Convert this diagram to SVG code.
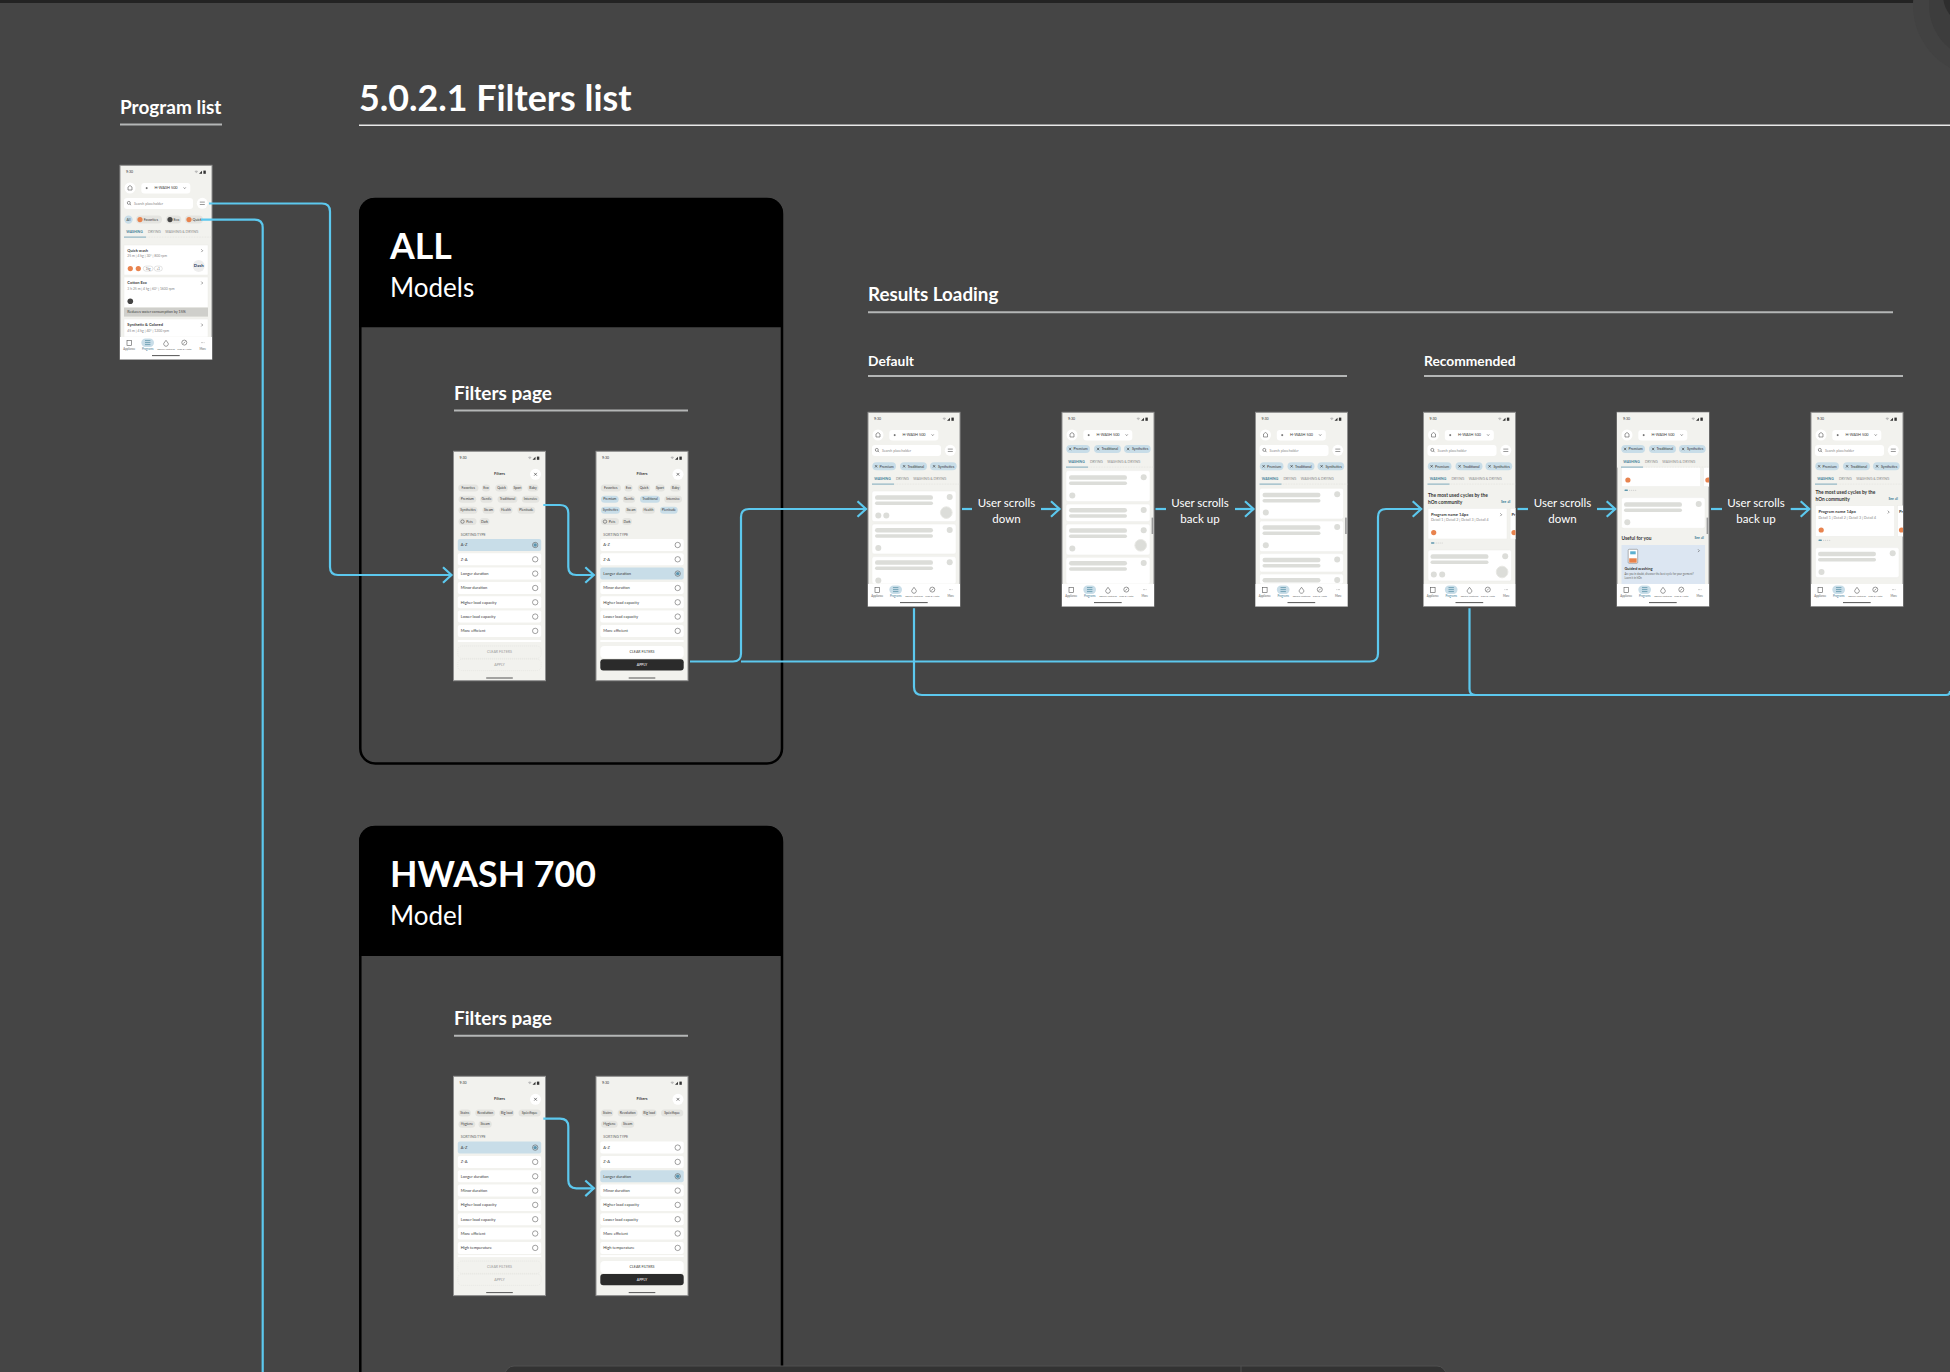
<svg xmlns="http://www.w3.org/2000/svg" width="1950" height="1372" viewBox="0 0 1950 1372">
<style>
text{font-family:Lato,"Noto Sans","Liberation Sans",sans-serif}
.w{fill:#fff}.b{font-weight:700}
.ln{stroke:#b4b6b6;stroke-width:2;fill:none}
.pn{fill:none;stroke:#000;stroke-width:2.5}
.ph{fill:#f2f2ee;stroke:#8e8e8e;stroke-width:1}
.t3{font-size:4px;fill:#3a3a3a}
.ttl{font-size:4px;fill:#3a3a3a;font-weight:700}
.t3c{font-size:3.4px;fill:#3a3a3a;text-anchor:middle}
.btn{font-size:3.6px;fill:#3a3a3a;text-anchor:middle}
.det{font-size:3.4px;fill:#888}
.chp{font-size:3.6px;fill:#333}
.srt{font-size:3.6px;fill:#666}
.t2c{font-size:2.8px;fill:#666;text-anchor:middle}
.h4{font-size:4.8px;fill:#333;font-weight:700}
.see{font-size:3.3px;fill:#3d7d96;font-weight:700}
.tab{font-size:3.4px;fill:#888}
.lab{font-size:11.5px;fill:#fff;text-anchor:middle}
.card{fill:#fff;stroke:#ecece8;stroke-width:.5}
.sk{fill:#dcddd9}
.ic{fill:none;stroke:#555;stroke-width:.6}
.or{fill:#e8834e}
.cn{fill:none;stroke:#5cc8ee;stroke-width:2.2}
.ar{fill:none;stroke:#5cc8ee;stroke-width:2.2;marker-end:url(#arr)}
.blue{fill:#c8dde8}
</style>
<defs>
<marker id="arr" markerUnits="userSpaceOnUse" markerWidth="14" markerHeight="20" refX="11" refY="10" orient="auto"><path d="M2 2.2L10.5 10L2 17.8" fill="none" stroke="#5cc8ee" stroke-width="2.2"/></marker>
<clipPath id="clip"><rect x="0" y="0" width="92" height="194"/></clipPath>
<g id="st"><text x="6" y="8" style="font-size:3.5px;fill:#333">9:30</text><path d="M74.5 6q1.8-1.6 3.6 0l-1.8 2z" fill="#bbb"/><path d="M79 8.4l3-3v3z" fill="#333"/><rect x="83.4" y="5.3" width="2.4" height="3.2" fill="#333"/></g>
<g id="nav"><rect y="171.7" width="92" height="22.3" fill="#fff"/><rect x="21.3" y="173.3" width="12.7" height="8.4" rx="4.2" class="blue"/>
<rect x="7" y="175" width="4.6" height="5" class="ic"/><path d="M25 175.3h5.4M25 177.3h5.4M25 179.3h5.4" class="ic" style="stroke:#3d7d96"/><path d="M46 175l2.2 3a2.3 2.3 0 1 1-4.4 0z" class="ic"/><circle cx="64.3" cy="177.3" r="2.5" class="ic"/><path d="M63.3 178.3l2-2" class="ic"/><path d="M81.2 177.3h.5M82.5 177.3h.5M83.8 177.3h.5" class="ic"/>
<text x="9.3" y="185.2" class="t2c">Appliance</text><text x="27.7" y="185.2" class="t2c" style="fill:#3d7d96">Programs</text><text x="46" y="185.2" class="t2c" style="font-size:2.5px">Special Features</text><text x="64.3" y="185.2" class="t2c" style="font-size:2.6px">Tips &amp; Hints</text><text x="82.7" y="185.2" class="t2c">More</text>
<rect x="32" y="189.8" width="27.7" height="1" fill="#555"/></g>
<g id="hd"><circle cx="10" cy="22.7" r="5.5" fill="#fff"/><path d="M8 24.7v-3l2-1.5 2 1.5v3z" class="ic"/><rect x="21.3" y="17.7" width="49" height="10.5" rx="3" fill="#fff"/><path d="M25.7 22.8h2M26.7 21.8v2" class="ic" style="stroke:#333"/><text x="46" y="24.1" class="t3c" style="font-size:3.8px">H-WASH 500</text><path d="M63.7 22.2l1 1 1-1" class="ic" style="stroke:#333"/></g>
<g id="sr"><rect x="4" y="32.7" width="69" height="11" rx="3" fill="#fff"/><circle cx="8.8" cy="37.6" r="1.5" class="ic"/><path d="M9.9 38.7l1.2 1.2" class="ic"/><text x="14" y="39.3" style="font-size:3.5px;fill:#888">Search placeholder</text><circle cx="82.3" cy="38" r="5.5" fill="#fff"/><path d="M79.8 36.8h5M79.8 39.2h5" class="ic"/></g>
<g id="fc"><rect x="4.3" y="-4" width="23.7" height="8" rx="4" class="blue"/><rect x="32" y="-4" width="27" height="8" rx="4" class="blue"/><rect x="62" y="-4" width="26.7" height="8" rx="4" class="blue"/><path d="M7 -1.2l2.2 2.4M9.2 -1.2L7 1.2M35 -1.2l2.2 2.4M37.2 -1.2L35 1.2M65 -1.2l2.2 2.4M67.2 -1.2L65 1.2" class="ic" style="stroke:#333"/><text x="11.6" y="1.2" class="chp">Premium</text><text x="39.6" y="1.2" class="chp">Traditional</text><text x="70" y="1.2" class="chp">Synthetics</text></g>
<g id="tb"><text x="6.3" y="1.2" class="tab" style="fill:#3d7d96;font-weight:700">WASHING</text><text x="28" y="1.2" class="tab">DRYING</text><text x="45.3" y="1.2" class="tab">WASHING &amp; DRYING</text><path d="M4 5.8h22" stroke="#5f97ad" stroke-width=".8"/><path d="M26 5.8h66" stroke="#d8d8d4" stroke-width=".5" stroke-dasharray=".8 .8"/></g>
<g id="bars"><rect x="7" y="-2.25" width="58" height="4.5" rx="2.2" class="sk"/><rect x="7" y="3.9" width="58" height="3.5" rx="1.7" class="sk"/></g>
<circle id="dot" r="3" class="sk"/>
<circle id="big" r="5.8" class="sk" stroke="#e8e8e4" stroke-width="1"/>
<g id="ch4"><rect x="5" y="44.5" width="17.7" height="7" rx="3.5"/><rect x="44" y="44.5" width="20" height="7" rx="3.5"/><rect x="5" y="55.5" width="19" height="7" rx="3.5"/><rect x="64" y="55.5" width="17.7" height="7" rx="3.5"/><text x="13.8" y="49.2" class="t3c">Premium</text><text x="54" y="49.2" class="t3c">Traditional</text><text x="14.5" y="60.2" class="t3c">Synthetics</text><text x="72.8" y="60.2" class="t3c">Plenitude</text></g>
<g id="chA" fill="#e4e4e0"><rect x="4.7" y="33.2" width="20.3" height="7" rx="3.5"/><rect x="28.3" y="33.2" width="8.4" height="7" rx="3.5"/><rect x="41.7" y="33.2" width="12.6" height="7" rx="3.5"/><rect x="59" y="33.2" width="10" height="7" rx="3.5"/><rect x="74" y="33.2" width="11" height="7" rx="3.5"/><rect x="26.7" y="44.5" width="12.6" height="7" rx="3.5"/><rect x="68.3" y="44.5" width="17.7" height="7" rx="3.5"/><rect x="29" y="55.5" width="12" height="7" rx="3.5"/><rect x="46" y="55.5" width="13" height="7" rx="3.5"/><rect x="5" y="66.8" width="18" height="7" rx="3.5"/><rect x="26" y="66.8" width="10" height="7" rx="3.5"/><circle cx="9" cy="70.3" r="1.7" class="ic"/>
<text x="14.8" y="37.9" class="t3c">Favorites</text><text x="32.5" y="37.9" class="t3c">Eco</text><text x="48" y="37.9" class="t3c">Quick</text><text x="64" y="37.9" class="t3c">Sport</text><text x="79.5" y="37.9" class="t3c">Baby</text><text x="33" y="49.2" class="t3c">Gentle</text><text x="77" y="49.2" class="t3c">Intensive</text><text x="35" y="60.2" class="t3c">Steam</text><text x="52.5" y="60.2" class="t3c">Health</text><text x="16" y="71.5" class="t3c">Pets</text><text x="31" y="71.5" class="t3c">Dark</text></g>
<g id="chH" fill="#e4e4e0"><rect x="5" y="33.2" width="12.3" height="7" rx="3.5"/><rect x="21.7" y="33.2" width="20" height="7" rx="3.5"/><rect x="45.7" y="33.2" width="15" height="7" rx="3.5"/><rect x="65" y="33.2" width="22.3" height="7" rx="3.5"/><rect x="5" y="44.5" width="16.7" height="7" rx="3.5"/><rect x="25" y="44.5" width="13.3" height="7" rx="3.5"/>
<text x="11.2" y="37.9" class="t3c">Stains</text><text x="31.7" y="37.9" class="t3c">Revolution</text><text x="53.2" y="37.9" class="t3c">Big load</text><text x="76" y="37.9" class="t3c">Spécifique</text><text x="13.3" y="49.2" class="t3c">Hygiene</text><text x="31.7" y="49.2" class="t3c">Steam</text></g>
<g id="row"><rect x="4.3" y="-6" width="83.4" height="12" rx="2"/><circle cx="81.7" r="2.7" fill="none" stroke="#444" stroke-width=".5"/></g>
<g id="rows"><g fill="#fff"><use href="#row" y="14.3"/><use href="#row" y="43"/><use href="#row" y="57.3"/><use href="#row" y="71.6"/><use href="#row" y="85.9"/></g>
<text x="7.3" y="15.7" class="t3">Z-A</text><text x="7.3" y="44.4" class="t3">Minor duration</text><text x="7.3" y="58.7" class="t3">Higher load capacity</text><text x="7.3" y="73" class="t3">Lower load capacity</text><text x="7.3" y="87.3" class="t3">More efficient</text></g>
<g id="r1"><use href="#row"/><text x="7.3" y="1.4" class="t3">A-Z</text></g>
<g id="r3"><use href="#row"/><text x="7.3" y="1.4" class="t3">Longer duration</text></g>
<circle id="sel" cx="81.7" r="1.7" fill="#5a93ad"/>
<g id="fhd"><text x="46" y="24.2" class="t3c" style="font-weight:700;font-size:4px">Filters</text><circle cx="82" cy="23" r="5.5" fill="#fff"/><path d="M80.6 21.6l2.8 2.8M83.4 21.6l-2.8 2.8" stroke="#333" stroke-width=".6"/></g>
<g id="prog"><rect class="card" x="4.5" y="0" width="79" height="30.7"/><rect class="card" x="86.6" y="0" width="20" height="30.7"/><text x="7.4" y="7.6" class="ttl" style="font-size:4.2px">Program name 14px</text><text x="7.4" y="13.2" class="det" style="font-size:3.6px">Detail 1 | Detail 2 | Detail 3 | Detail 4</text><path d="M76.8 5l1.4 1.4-1.4 1.4" class="ic"/><text x="88" y="7.6" class="ttl" style="font-size:4.2px">Pr</text><circle cx="10.2" cy="24.3" r="2.6" class="or"/><circle cx="90.5" cy="24.3" r="2.6" class="or"/></g>
<g id="pg"><rect x="7.4" y="-.8" width="3.6" height="1.6" rx=".8" fill="#5f97ad"/><circle cx="12.7" r=".6" fill="#ccc"/><circle cx="14.7" r=".6" fill="#ccc"/><circle cx="16.7" r=".6" fill="#ccc"/><circle cx="18.7" r=".6" fill="#ccc"/></g>
</defs>

<rect id="bg" width="1950" height="1372" fill="#454545"/>
<rect width="1942" height="3" fill="#232323"/>
<g id="corner"><circle cx="1985" cy="5" r="72" fill="#424242"/><circle cx="1985" cy="5" r="56" fill="#3d3d3d"/><circle cx="1975" cy="-5" r="32" fill="#2e2e2e"/></g>

<g id="headings">
<text x="120" y="114" class="w b" font-size="19">Program list</text><path d="M120 124.5H222" class="ln"/>
<text x="359" y="111" class="w b" font-size="35.8">5.0.2.1 Filters list</text><path d="M359 125.3H1950" stroke="#e8e8e8" stroke-width="1.5"/>
<text x="868" y="301" class="w b" font-size="18.8">Results Loading</text><path d="M868 312.3H1893" class="ln"/>
<text x="868" y="366" class="w b" font-size="13.8">Default</text><path d="M868 376H1347" class="ln"/>
<text x="1424" y="366" class="w b" font-size="13.8">Recommended</text><path d="M1424 376H1903" class="ln"/>
</g>

<g id="panel-all">
<rect class="pn" x="360.3" y="199" width="421.7" height="564.5" rx="15"/>
<path d="M359 327.3V213a15 15 0 0 1 15-15H768a15 15 0 0 1 15 15V327.3z" fill="#000"/>
<text x="390" y="259" class="w b" font-size="35.7">ALL</text>
<text x="390" y="297" class="w" font-size="26">Models</text>
<text x="454" y="400" class="w b" font-size="19">Filters page</text><path d="M454 410.5H688" class="ln"/>
</g>
<g id="panel-hwash">
<rect class="pn" x="360.3" y="827" width="421.7" height="700" rx="15"/>
<path d="M359 956V841a15 15 0 0 1 15-15H768a15 15 0 0 1 15 15V956z" fill="#000"/>
<text x="390" y="887" class="w b" font-size="35.7">HWASH 700</text>
<text x="390" y="925" class="w" font-size="26">Model</text>
<text x="454" y="1025" class="w b" font-size="19">Filters page</text><path d="M454 1035.7H688" class="ln"/>
</g>
<g id="toolbar"><rect x="505" y="1366" width="941" height="30" rx="9" fill="#333" stroke="#505050"/><path d="M1241 1366v6" stroke="#505050"/></g>

<g id="phone-program-list" transform="translate(120 165.3)">
<rect class="ph" width="92" height="194"/><use href="#st"/><use href="#hd"/><use href="#sr"/>
<circle cx="8.5" cy="54.3" r="4.2" class="blue"/><text x="8.5" y="55.5" class="t3c">All</text>
<rect x="16" y="50.3" width="26" height="8" rx="4" fill="#e4e4e0"/><circle cx="20" cy="54.3" r="2.6" class="or"/><text x="23.7" y="55.5" class="chp">Favorites</text>
<rect x="46" y="50.3" width="15.3" height="8" rx="4" fill="#e4e4e0"/><circle cx="50" cy="54.3" r="2.6" fill="#444"/><text x="53.6" y="55.5" class="chp">Eco</text>
<rect x="65" y="50.3" width="18" height="8" rx="4" fill="#e4e4e0"/><circle cx="69" cy="54.3" r="2.6" class="or"/><text x="72.6" y="55.5" class="chp">Quick</text>
<use href="#tb" y="66"/>
<rect class="card" x="4" y="79.7" width="84" height="30"/><text x="7.3" y="86.7" class="ttl">Quick wash</text><text x="7.3" y="91.9" class="det">25 m | 4 kg | 30° | 800 rpm</text><path d="M81.3 84l1.4 1.4-1.4 1.4" class="ic"/><circle cx="10.3" cy="103.3" r="2.6" class="or"/><circle cx="18.3" cy="103.3" r="2.6" class="or"/><rect x="23.3" y="100.8" width="9.7" height="5" rx="2.5" fill="#fff" stroke="#bbb" stroke-width=".4"/><text x="28.1" y="104.3" class="t2c">1kg</text><rect x="34.3" y="100.8" width="8" height="5" rx="2.5" fill="#fff" stroke="#bbb" stroke-width=".4"/><text x="38.3" y="104.3" class="t2c">+1</text><circle cx="78.7" cy="100.7" r="6" fill="#eee"/><text x="78.7" y="102.2" text-anchor="middle" font-size="4.4" font-weight="700" fill="#1d3b5e">Dash</text>
<rect class="card" x="4" y="111.7" width="84" height="30.6"/><text x="7.3" y="119.1" class="ttl">Cotton Eco</text><text x="7.3" y="124.3" class="det">3 h 25 m | 4 kg | 60° | 1600 rpm</text><path d="M81.3 116.3l1.4 1.4-1.4 1.4" class="ic"/><circle cx="10.3" cy="136" r="2.8" fill="#444"/>
<rect x="4" y="142.3" width="84" height="9" fill="#cfcfcb"/><text x="7.3" y="148.1" style="font-size:3.7px;fill:#444">Reduces water consumption by 15%</text>
<rect class="card" x="4" y="153.7" width="84" height="18"/><text x="7.3" y="161.1" class="ttl">Synthetic &amp; Colored</text><text x="7.3" y="166.3" class="det">45 m | 4 kg | 40° | 1200 rpm</text><path d="M81.3 158.3l1.4 1.4-1.4 1.4" class="ic"/>
<use href="#nav"/>
</g>

<g id="phone-all-filters-1" transform="translate(453.5 451.3)">
<rect class="ph" width="92" height="229.4"/><use href="#st"/><use href="#fhd"/><use href="#chA"/><use href="#ch4" fill="#e4e4e0"/>
<text x="7.3" y="84.4" class="srt">SORTING TYPE</text>
<use href="#r1" y="93.7" class="blue"/><use href="#sel" y="93.7"/><use href="#rows" y="93.7"/><use href="#r3" y="122.3" fill="#fff"/>
<rect x="4.3" y="188.7" width="83.4" height="2" fill="#fff"/>
<rect x="4.3" y="194.7" width="83.4" height="12.3" rx="4" fill="#f2f2ee" stroke="#dededa" stroke-width=".5" stroke-dasharray="1 1"/><text x="46" y="201.6" class="btn" style="fill:#999">CLEAR FILTERS</text>
<rect x="4.3" y="208" width="83.4" height="11.3" rx="4" fill="#f2f2ee" stroke="#dededa" stroke-width=".5" stroke-dasharray="1 1"/><text x="46" y="215" class="btn" style="fill:#999">APPLY</text>
<rect x="32.7" y="226.2" width="26.6" height="1" fill="#555"/>
</g>
<g id="phone-all-filters-2" transform="translate(596 451.3)">
<rect class="ph" width="92" height="229.4"/><use href="#st"/><use href="#fhd"/><use href="#chA"/><use href="#ch4" class="blue"/>
<text x="7.3" y="84.4" class="srt">SORTING TYPE</text>
<use href="#r1" y="93.7" fill="#fff"/><use href="#rows" y="93.7"/><use href="#r3" y="122.3" class="blue"/><use href="#sel" y="122.3"/>
<rect x="4.3" y="188.7" width="83.4" height="2" fill="#fff"/>
<rect x="4.3" y="194.7" width="83.4" height="12.3" rx="4" fill="#fff"/><text x="46" y="201.6" class="btn">CLEAR FILTERS</text>
<rect x="4.3" y="208" width="83.4" height="11.3" rx="3" fill="#2b2b2b"/><text x="46" y="215" class="btn" style="fill:#fff">APPLY</text>
<rect x="32.7" y="226.2" width="26.6" height="1" fill="#555"/>
</g>
<g id="phone-hwash-filters-1" transform="translate(453.5 1076.3)">
<rect class="ph" width="92" height="219.3"/><use href="#st"/><use href="#fhd"/><use href="#chH"/>
<text x="7.3" y="62" class="srt">SORTING TYPE</text>
<use href="#r1" y="71.3" class="blue"/><use href="#sel" y="71.3"/><use href="#rows" y="71.3"/><use href="#r3" y="100" fill="#fff"/>
<use href="#row" y="171.6" fill="#fff"/><text x="7.3" y="173" class="t3">High temperature</text>
<rect x="4.3" y="178.8" width="83.4" height="2" fill="#fff"/>
<rect x="4.3" y="184.7" width="83.4" height="12.3" rx="4" fill="#f2f2ee" stroke="#dededa" stroke-width=".5" stroke-dasharray="1 1"/><text x="46" y="191.3" class="btn" style="fill:#999">CLEAR FILTERS</text>
<rect x="4.3" y="197.7" width="83.4" height="11.3" rx="4" fill="#f2f2ee" stroke="#dededa" stroke-width=".5" stroke-dasharray="1 1"/><text x="46" y="204.6" class="btn" style="fill:#999">APPLY</text>
<rect x="32.7" y="215.8" width="26.6" height="1" fill="#555"/>
</g>
<g id="phone-hwash-filters-2" transform="translate(596 1076.3)">
<rect class="ph" width="92" height="219.3"/><use href="#st"/><use href="#fhd"/><use href="#chH"/>
<text x="7.3" y="62" class="srt">SORTING TYPE</text>
<use href="#r1" y="71.3" fill="#fff"/><use href="#rows" y="71.3"/><use href="#r3" y="100" class="blue"/><use href="#sel" y="100"/>
<use href="#row" y="171.6" fill="#fff"/><text x="7.3" y="173" class="t3">High temperature</text>
<rect x="4.3" y="178.8" width="83.4" height="2" fill="#fff"/>
<rect x="4.3" y="184.7" width="83.4" height="12.3" rx="4" fill="#fff"/><text x="46" y="191.3" class="btn">CLEAR FILTERS</text>
<rect x="4.3" y="197.7" width="83.4" height="11.3" rx="3" fill="#2b2b2b"/><text x="46" y="204.6" class="btn" style="fill:#fff">APPLY</text>
<rect x="32.7" y="215.8" width="26.6" height="1" fill="#555"/>
</g>

<g id="phone-default-1" transform="translate(868 412.3)">
<rect class="ph" width="92" height="194"/><use href="#st"/><use href="#hd"/><use href="#sr"/><use href="#fc" y="54"/><use href="#tb" y="66"/>
<rect class="card" x="4" y="78.7" width="84" height="30.6" rx="2"/><use href="#bars" y="85.3"/><use href="#dot" x="81.7" y="84.7"/><use href="#dot" x="10.3" y="103.3"/><use href="#dot" x="18.3" y="103.3"/><use href="#big" x="78.3" y="100.3"/>
<rect class="card" x="4" y="111.7" width="84" height="30" rx="2"/><use href="#bars" y="118"/><use href="#dot" x="81.7" y="117.7"/><use href="#dot" x="10.3" y="135.7"/>
<rect class="card" x="4" y="144.3" width="84" height="27.4" rx="2"/><use href="#bars" y="150.3"/><use href="#dot" x="81.7" y="150"/><use href="#dot" x="10.3" y="168.3"/>
<use href="#nav"/>
</g>
<g id="phone-default-2" transform="translate(1062 412.3)">
<rect class="ph" width="92" height="194"/><use href="#st"/><use href="#hd"/><use href="#fc" y="36.7"/><use href="#tb" y="49"/>
<rect class="card" x="4" y="58.3" width="84" height="31" rx="2"/><use href="#bars" y="65.3"/><use href="#dot" x="81.7" y="65"/><use href="#dot" x="10.3" y="83.3"/>
<rect class="card" x="4" y="91.7" width="84" height="17.6" rx="2"/><use href="#bars" y="98"/><use href="#dot" x="81.7" y="97.7"/>
<rect class="card" x="4" y="111.7" width="84" height="31" rx="2"/><use href="#bars" y="118.3"/><use href="#dot" x="81.7" y="118"/><use href="#dot" x="10.3" y="136.3"/><use href="#big" x="78.7" y="133"/>
<rect class="card" x="4" y="145" width="84" height="26.7" rx="2"/><use href="#bars" y="151"/><use href="#dot" x="81.7" y="150.7"/>
<rect x="89.6" y="105.3" width="1.6" height="16.4" fill="#999"/>
<use href="#nav"/>
</g>
<g id="phone-default-3" transform="translate(1255.5 412.3)">
<rect class="ph" width="92" height="194"/><use href="#st"/><use href="#hd"/><use href="#sr"/><use href="#fc" y="54"/><use href="#tb" y="66"/>
<rect class="card" x="4" y="76" width="84" height="30.7" rx="2"/><use href="#bars" y="82.7"/><use href="#dot" x="81.7" y="82"/><use href="#dot" x="10.3" y="100.3"/>
<rect class="card" x="4" y="108.7" width="84" height="30.6" rx="2"/><use href="#bars" y="115.3"/><use href="#dot" x="81.7" y="114.7"/><use href="#dot" x="10.3" y="133"/>
<rect class="card" x="4" y="141.3" width="84" height="18.4" rx="2"/><use href="#bars" y="147.7"/><use href="#dot" x="81.7" y="147.3"/>
<rect class="card" x="4" y="161.7" width="84" height="10" rx="2"/><use href="#bars" y="168"/><use href="#dot" x="81.7" y="167.7"/>
<rect x="89.6" y="105.3" width="1.6" height="16.4" fill="#999"/>
<use href="#nav"/>
</g>

<g id="phone-recommended-1" transform="translate(1423.5 412.3)">
<rect class="ph" width="92" height="194"/><g clip-path="url(#clip)"><use href="#st"/><use href="#hd"/><use href="#sr"/><use href="#fc" y="54"/><use href="#tb" y="66"/>
<text x="4.5" y="84.3" class="h4">The most used cycles by the</text><text x="4.5" y="91.4" class="h4">hOn community</text><text x="77.5" y="91" class="see">See all</text>
<use href="#prog" y="96"/><use href="#pg" y="130.7"/>
<rect class="card" x="4.5" y="137.7" width="83.5" height="31" rx="2"/><use href="#bars" y="144.3"/><use href="#dot" x="81.7" y="144"/><use href="#dot" x="10.3" y="162.3"/><use href="#dot" x="18.7" y="162.3"/><use href="#big" x="78.6" y="159.7"/>
<use href="#nav"/></g>
</g>
<g id="phone-recommended-2" transform="translate(1617 412.3)">
<rect class="ph" width="92" height="194"/><g clip-path="url(#clip)">
<rect class="card" x="4.5" y="52" width="79" height="22.3"/><rect class="card" x="86.6" y="52" width="20" height="22.3"/><circle cx="10.9" cy="67.7" r="2.6" class="or"/><circle cx="90.9" cy="67.7" r="2.6" class="or"/><use href="#pg" y="78"/>
<rect x="0" y="0" width="92" height="55.3" fill="#f2f2ee"/><use href="#st"/><use href="#hd"/><use href="#fc" y="36.7"/><use href="#tb" y="49"/>
<rect class="card" x="4.5" y="85.3" width="83.5" height="30.7" rx="2"/><use href="#bars" y="92.3"/><use href="#dot" x="81.7" y="91.7"/><use href="#dot" x="10.3" y="110"/>
<text x="4.5" y="127.3" class="h4">Useful for you</text><text x="77.5" y="127" class="see">See all</text>
<rect x="4.5" y="132.7" width="83.5" height="40" fill="#dce6f2"/><rect x="11.2" y="137" width="9.5" height="14" rx="1" fill="#fff" stroke="#444" stroke-width=".4"/><rect x="12.2" y="146" width="7.5" height="4.4" fill="#e8834e"/><rect x="13.2" y="139" width="5.5" height="3" fill="#5cb0d0"/><path d="M81 137l1.4 1.4-1.4 1.4" class="ic"/>
<text x="7.4" y="158" style="font-size:4px;fill:#333;font-weight:700">Guided washing</text><text x="7.4" y="163" style="font-size:2.7px;fill:#666">Are you in doubt, discover the best cycle for your garment?</text><text x="7.4" y="166.8" style="font-size:2.7px;fill:#666">Learn it in hOn</text>
<rect x="89.6" y="105.3" width="1.6" height="16.4" fill="#999"/>
<use href="#nav"/></g>
</g>
<g id="phone-recommended-3" transform="translate(1811 412.3)">
<rect class="ph" width="92" height="194"/><g clip-path="url(#clip)"><use href="#st"/><use href="#hd"/><use href="#sr"/><use href="#fc" y="54"/><use href="#tb" y="66"/>
<text x="4.5" y="81.3" class="h4">The most used cycles by the</text><text x="4.5" y="88.6" class="h4">hOn community</text><text x="77.5" y="88" class="see">See all</text>
<use href="#prog" y="93.4"/><use href="#pg" y="128"/>
<rect class="card" x="4.5" y="135.3" width="83.5" height="30" rx="2"/><use href="#bars" y="141.7"/><use href="#dot" x="81.7" y="141"/><use href="#dot" x="10.5" y="159.7"/>
<use href="#nav"/></g>
</g>

<g id="labels">
<text x="1006.5" y="507" class="lab">User scrolls</text><text x="1006.5" y="522.5" class="lab">down</text>
<text x="1200" y="507" class="lab">User scrolls</text><text x="1200" y="522.5" class="lab">back up</text>
<text x="1562.5" y="507" class="lab">User scrolls</text><text x="1562.5" y="522.5" class="lab">down</text>
<text x="1756" y="507" class="lab">User scrolls</text><text x="1756" y="522.5" class="lab">back up</text>
</g>

<g id="connectors">
<path class="ar" d="M209 203.5H322Q330 203.5 330 211.5V567Q330 575 338 575H452"/>
<path class="cn" d="M201 219.7H254.7Q262.7 219.7 262.7 227.7V1372"/>
<path class="ar" d="M543.3 505H560Q568.3 505 568.3 513V567Q568.3 575 576.3 575H594.3"/>
<path class="ar" d="M690 661.5H733Q741 661.5 741 653.5V517Q741 509 749 509H866.5"/>
<path class="ar" d="M741 661.5H1370Q1378 661.5 1378 653.5V517Q1378 509 1386 509H1421.7"/>
<path class="cn" d="M914 608.3V687Q914 695 922 695H1946Q1950 695 1950 691"/>
<path class="cn" d="M1469.5 608.3V689Q1469.5 695 1475.5 695"/>
<path class="ar" d="M543.3 1118.7H560Q568.3 1118.7 568.3 1126.7V1180.3Q568.3 1188.3 576.3 1188.3H594.3"/>
<path class="cn" d="M962 509H972"/><path class="ar" d="M1041 509H1060"/>
<path class="cn" d="M1155.5 509H1166"/><path class="ar" d="M1235 509H1254"/>
<path class="cn" d="M1517.5 509H1528"/><path class="ar" d="M1597 509H1615.7"/>
<path class="cn" d="M1711 509H1722"/><path class="ar" d="M1790.7 509H1809.7"/>
</g>
</svg>
